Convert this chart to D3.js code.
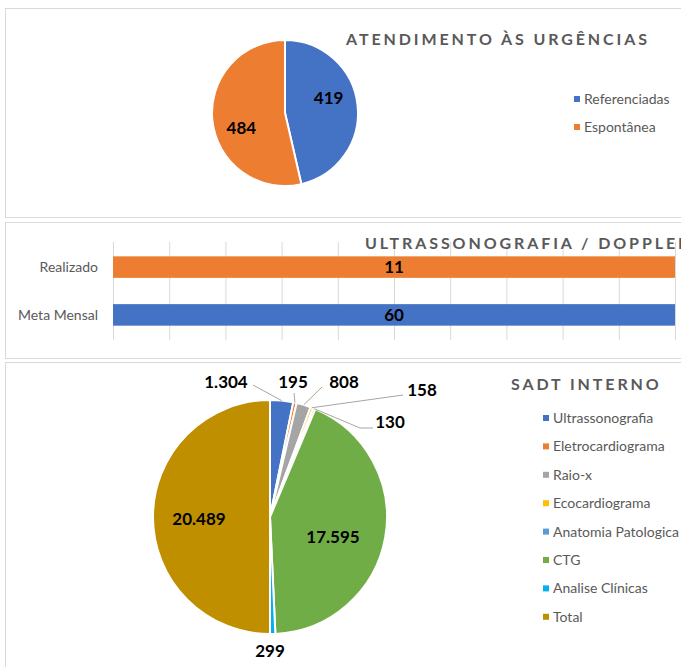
<!DOCTYPE html>
<html>
<head>
<meta charset="utf-8">
<script src="https://cdn.jsdelivr.net/npm/d3@7"></script>
<style>
    body { margin: 0; background: #fff; }
    svg { display: block; font-family: Lato, "Open Sans", sans-serif; }
</style>
</head>
<body>
<svg id="chart" width="681" height="667"></svg>
<script>
// Atendimento as urgencias
var urgCategories = ["Referenciadas", "Espontânea"];
var urgValues = [419, 484];

// Ultrassonografia / Doppler
var usgCategories = ["Realizado", "Meta Mensal"];
var usgValues = [11, 60];
var usgTicks = [0, 1, 2, 3, 4, 5, 6, 7, 8, 9, 10];

// SADT interno
var sadtCategories = ["Ultrassonografia", "Eletrocardiograma", "Raio-x", "Ecocardiograma",
    "Anatomia Patologica", "CTG", "Analise Clínicas", "Total"];
var sadtValues = [1304, 195, 808, 158, 130, 17595, 299, 20489];
var sadtLabels = ["1.304", "195", "808", "158", "130", "17.595", "299", "20.489"];

var colors = ["#4472C4", "#ED7D31", "#A5A5A5", "#FFC000", "#5B9BD5", "#70AD47", "#00B0F0", "#BF8F00"];
var textGray = "#595959";

var svg = d3.select("#chart");

// panel frames
function frame(y, h) {
    svg.append("rect")
        .attr("x", 5.5).attr("y", y + 0.5)
        .attr("width", 700).attr("height", h)
        .attr("fill", "#fff")
        .attr("stroke", "#d9d9d9");
}
frame(8, 209);
frame(222, 136);
frame(362, 320);

function title(txt, x, y) {
    svg.append("text")
        .attr("x", x).attr("y", y)
        .attr("fill", textGray)
        .attr("font-size", 16)
        .attr("font-weight", "bold")
        .attr("letter-spacing", 2.9)
        .text(txt);
}

// ---------- top pie ----------
var pie = d3.pie().sort(null).value(function (d) { return d; });
var topG = svg.append("g").attr("transform", "translate(285,113)");
var arcTop = d3.arc().innerRadius(0).outerRadius(73);
var topArcs = pie(urgValues);
topG.selectAll("path")
    .data(topArcs)
    .enter()
    .append("path")
    .attr("d", arcTop)
    .attr("fill", function (d, i) { return colors[i]; })
    .attr("stroke", "#fff")
    .attr("stroke-width", 2);

// data labels sit a little before the slice middle (Excel best fit)
topG.selectAll("text")
    .data(topArcs)
    .enter()
    .append("text")
    .attr("transform", function (d) {
        var a = (d.startAngle + d.endAngle) / 2 - 0.21;
        return "translate(" + (46 * Math.sin(a)) + "," + (-46 * Math.cos(a) + 6) + ")";
    })
    .attr("text-anchor", "middle")
    .attr("font-size", 17)
    .attr("font-weight", "bold")
    .text(function (d) { return d.data; });

title("ATENDIMENTO ÀS URGÊNCIAS", 346, 45);

var topLegend = svg.append("g");
urgCategories.forEach(function (c, i) {
    var y = 99 + i * 28;
    topLegend.append("rect").attr("x", 574).attr("y", y - 3).attr("width", 6).attr("height", 6)
        .attr("fill", colors[i]);
    topLegend.append("text").attr("x", 584).attr("y", y + 5)
        .attr("font-size", 14).attr("fill", textGray).text(c);
});

// ---------- middle bars ----------
var x = d3.scaleLinear().domain([0, 10]).range([113, 675]);
var y = d3.scaleBand().domain(usgCategories).range([242, 340]).paddingInner(0.55).paddingOuter(0.3);
var barColors = { "Realizado": colors[1], "Meta Mensal": colors[0] };

var mid = svg.append("g");
mid.append("clipPath").attr("id", "midClip")
    .append("rect").attr("x", 0).attr("y", 222).attr("width", 675).attr("height", 136);
mid.append("clipPath").attr("id", "stubClip")
    .append("rect").attr("x", 500).attr("y", 218.5).attr("width", 50).attr("height", 3);

// stray text cut by the panel edge
mid.append("text")
    .attr("x", 506).attr("y", 229)
    .attr("clip-path", "url(#stubClip)")
    .attr("font-size", 11).attr("font-weight", "bold")
    .attr("fill", "#404040")
    .text("xxxxxx");

mid.selectAll("line.grid")
    .data(usgTicks)
    .enter()
    .append("line")
    .attr("class", "grid")
    .attr("x1", function (d) { return x(d) + 0.5; })
    .attr("x2", function (d) { return x(d) + 0.5; })
    .attr("y1", 242).attr("y2", 340)
    .attr("stroke", "#d9d9d9");

var bars = mid.append("g").attr("clip-path", "url(#midClip)");
bars.selectAll("rect")
    .data(usgValues)
    .enter()
    .append("rect")
    .attr("x", x(0))
    .attr("y", function (d, i) { return y(usgCategories[i]); })
    .attr("width", function (d) { return x(d) - x(0); })
    .attr("height", y.bandwidth())
    .attr("fill", function (d, i) { return barColors[usgCategories[i]]; });

mid.selectAll("text.val")
    .data(usgValues)
    .enter()
    .append("text")
    .attr("class", "val")
    .attr("x", function (d) { return (x(0) + Math.min(x(d), 675)) / 2; })
    .attr("y", function (d, i) { return y(usgCategories[i]) + y.bandwidth() / 2 + 6; })
    .attr("text-anchor", "middle")
    .attr("font-size", 17)
    .attr("font-weight", "bold")
    .text(function (d) { return d; });

mid.selectAll("text.cat")
    .data(usgCategories)
    .enter()
    .append("text")
    .attr("class", "cat")
    .attr("x", 98)
    .attr("y", function (d) { return y(d) + y.bandwidth() / 2 + 5; })
    .attr("text-anchor", "end")
    .attr("font-size", 14)
    .attr("fill", textGray)
    .text(function (d) { return d; });

title("ULTRASSONOGRAFIA / DOPPLER", 365, 249);

// ---------- bottom pie ----------
var cx = 270, cy = 517, R = 117;
var botG = svg.append("g").attr("transform", "translate(" + cx + "," + cy + ")");
var arcBot = d3.arc().innerRadius(0).outerRadius(R);
var botArcs = pie(sadtValues);
botG.selectAll("path")
    .data(botArcs)
    .enter()
    .append("path")
    .attr("d", arcBot)
    .attr("fill", function (d, i) { return colors[i]; })
    .attr("stroke", "#fff")
    .attr("stroke-width", 2);

// label positions (text anchor point) and leader line bends
var labelPos = [
    { x: 226, y: 388, line: true, bend: [253, 385] },
    { x: 293, y: 388, line: true, bend: [294, 393] },
    { x: 344, y: 388, line: true, bend: [322, 387] },
    { x: 422, y: 396, line: true, bend: [403, 395] },
    { x: 390, y: 428, line: true, bend: [373, 428], bend2: [360, 428] },
    { x: 333, y: 543, line: false },
    { x: 270, y: 657, line: false },
    { x: 199, y: 525, line: false }
];

var outer = d3.arc().innerRadius(R).outerRadius(R);
botArcs.forEach(function (d, i) {
    var p = labelPos[i];
    if (p.line) {
        var e = outer.centroid(d);
        var pts = [p.bend];
        if (p.bend2) pts.push(p.bend2);
        pts.push([cx + e[0], cy + e[1]]);
        svg.append("path")
            .attr("d", d3.line()(pts))
            .attr("fill", "none")
            .attr("stroke", "#a6a6a6")
            .attr("stroke-width", 1);
    }
    svg.append("text")
        .attr("x", p.x).attr("y", p.y)
        .attr("text-anchor", "middle")
        .attr("font-size", 17)
        .attr("font-weight", "bold")
        .text(sadtLabels[i]);
});

title("SADT INTERNO", 511, 390);

var botLegend = svg.append("g");
sadtCategories.forEach(function (c, i) {
    var ly = 418 + i * 28.4;
    botLegend.append("rect").attr("x", 543).attr("y", ly - 3).attr("width", 6).attr("height", 6)
        .attr("fill", colors[i]);
    botLegend.append("text").attr("x", 553).attr("y", ly + 5)
        .attr("font-size", 14).attr("fill", textGray).text(c);
});
</script>
</body>
</html>
